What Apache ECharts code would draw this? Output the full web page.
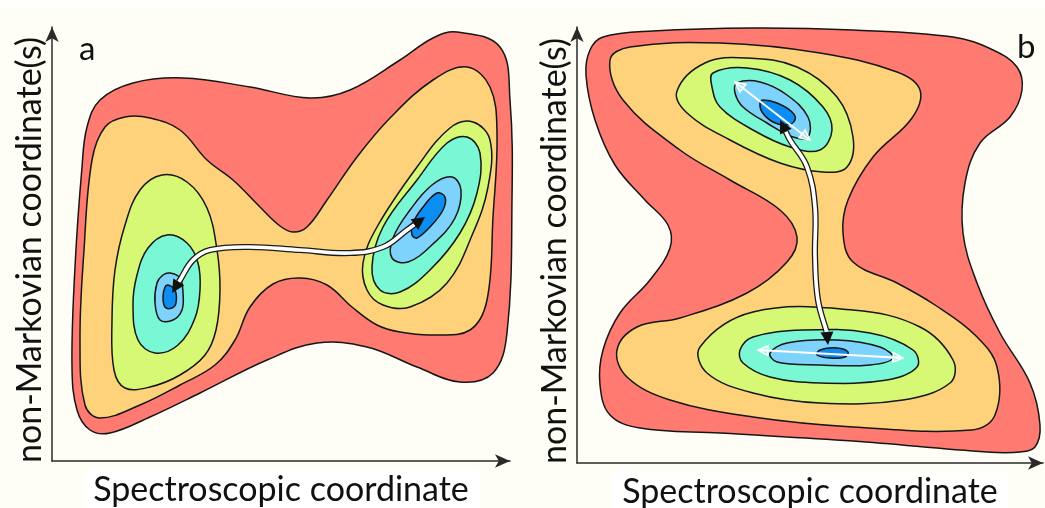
<!DOCTYPE html>
<html><head><meta charset="utf-8">
<script src="https://cdn.jsdelivr.net/npm/echarts@6/dist/echarts.min.js"></script>
<style>html,body{margin:0;padding:0;background:#fefef6}#c{width:1045px;height:508px}</style>
</head><body><div id="c"></div><script>
// ---- text ----
const xLabel = 'Spectroscopic coordinate';
const yLabel = 'non-Markovian coordinate(s)';
const panelLabels = ['a', 'b'];
// ---- level colours (outer -> inner) ----
const levelColors = ['#ff7b72', '#fed27a', '#d6f874', '#7af7d5', '#7dd3fb', '#0b8df2'];

// ---- panel a contours (x: spectroscopic, y: non-Markovian) ----
const aRed = [[405,429],[448,414],[458,361],[460,261],[455,128],[441,88],[408,79],[365,94],[315,114],[265,118],[215,101],[148,68],[98,44],[58,28],[38,31],[25,51],[20,94],[23,194],[30,294],[35,334],[48,361],[81,378],[131,383],[198,374],[258,363],[298,371],[348,401],[381,423]];
const aOrange = [[415,394],[438,374],[445,328],[441,244],[435,161],[418,131],[381,126],[348,129],[325,136],[300,154],[275,176],[248,183],[221,177],[198,154],[183,121],[163,96],[128,76],[88,56],[48,43],[33,56],[28,121],[32,211],[40,301],[53,334],[73,344],[98,343],[128,331],[155,301],[181,281],[208,254],[228,235],[241,229],[255,234],[275,261],[305,304],[338,343],[381,381]];
const aYellowL = [[110,286],[135,279],[155,253],[165,211],[168,171],[164,131],[153,106],[128,86],[98,74],[73,73],[62,91],[60,141],[63,191],[73,236],[88,271]];
const aAquaL = [[115,226],[135,218],[146,198],[148,171],[143,143],[126,116],[103,108],[86,121],[81,156],[85,186],[96,213]];
const aLBlueL = [[118,188],[128,183],[131,168],[130,151],[121,141],[108,141],[103,158],[105,178],[111,186]];
const aBlueL = [[116,176],[123,171],[124,158],[120,153],[113,154],[111,164],[113,174]];
const aYellowR = [[421,339],[438,321],[436,274],[421,228],[395,178],[358,154],[331,156],[315,171],[311,198],[325,234],[365,294],[398,333]];
const aAquaR = [[415,324],[428,308],[425,268],[408,228],[378,191],[348,169],[328,171],[320,194],[331,234],[365,281],[395,318]];
const aLBlueR = [[400,284],[409,271],[403,243],[381,217],[356,199],[340,203],[341,223],[358,251],[380,276]];
const aBlueR = [[385,268],[393,264],[391,251],[378,234],[365,223],[360,226],[361,238],[371,254]];
const aPath = [[120,168],[128,181],[141,201],[158,211],[198,214],[248,211],[298,208],[331,214],[355,231],[373,244]];

// ---- panel b contours ----
const bRed = [[26,426],[76,432],[176,435],[276,433],[376,426],[416,413],[440,396],[445,373],[433,346],[403,320],[388,280],[386,230],[400,180],[423,130],[453,80],[463,38],[458,16],[443,11],[410,11],[276,22],[143,30],[63,35],[33,48],[23,78],[26,113],[43,150],[73,183],[93,215],[91,238],[68,263],[38,298],[18,343],[9,388],[13,413]];
const bOrange = [[53,416],[143,420],[243,410],[320,391],[343,373],[335,345],[296,306],[271,263],[266,230],[276,201],[320,180],[358,158],[398,128],[420,96],[418,48],[395,33],[276,36],[176,46],[93,63],[50,86],[40,113],[60,136],[103,145],[170,170],[210,201],[220,226],[203,253],[153,283],[103,313],[46,363],[33,403]];
const bYellowT = [[100,372],[128,400],[170,405],[220,396],[260,366],[276,326],[270,296],[246,291],[203,300],[153,323],[110,350]];
const bAquaT = [[136,390],[170,395],[213,383],[246,356],[255,333],[243,313],[213,316],[176,333],[143,356],[135,376]];
const bLBlueT = [[160,380],[183,381],[210,368],[231,346],[231,326],[216,326],[190,340],[166,356],[158,370]];
const bBlueT = [[186,363],[200,360],[215,351],[218,343],[210,338],[196,341],[185,351],[183,360]];
const bYellowB = [[123,116],[176,151],[276,153],[343,136],[376,103],[373,80],[326,63],[243,60],[176,70],[130,90]];
const bAquaB = [[163,113],[176,126],[226,133],[293,130],[336,113],[340,96],[310,83],[243,80],[193,86],[166,100]];
const bLBlueB = [[193,110],[210,120],[260,123],[303,116],[316,105],[293,98],[243,98],[200,101]];
const bBlueB = [[240,108],[243,113],[260,115],[271,111],[268,106],[253,105]];
const bPath = [[203,343],[213,323],[230,296],[238,256],[238,206],[241,163],[250,130],[251,118]];
const bSpinT = [[158,381],[233,323]];
const bSpinB = [[181,113],[326,105]];

const panelA = [[aRed,0],[aOrange,1],[aYellowL,2],[aAquaL,3],[aLBlueL,4],[aBlueL,5],[aYellowR,2],[aAquaR,3],[aLBlueR,4],[aBlueR,5]];
const panelB = [[bRed,0],[bOrange,1],[bYellowT,2],[bAquaT,3],[bLBlueT,4],[bBlueT,5],[bYellowB,2],[bAquaB,3],[bLBlueB,4],[bBlueB,5]];

const FONT = 'Lato, "Open Sans", sans-serif';

function contourSeries(idx, list) {
  return {
    type: 'custom', xAxisIndex: idx, yAxisIndex: idx, silent: true, animation: false,
    data: list.map((c, i) => [i, 0]),
    renderItem: function (params, api) {
      const item = list[api.value(0)];
      const pts = item[0].map(p => api.coord(p));
      return { type: 'polygon', shape: { points: pts, smooth: 0.38 },
        style: { fill: levelColors[item[1]], stroke: '#161616', lineWidth: 1.5 } };
    }
  };
}

function headGeom(tip, from, hl, hw) {
  const dx = tip[0] - from[0], dy = tip[1] - from[1];
  const L = Math.hypot(dx, dy) || 1; const ux = dx / L, uy = dy / L;
  const bx = tip[0] - ux * hl, by = tip[1] - uy * hl;
  return { base: [bx, by], poly: [tip, [bx - uy * hw, by + ux * hw], [bx + uy * hw, by - ux * hw]] };
}

function arrowSeries(idx, path, kind) {
  return {
    type: 'custom', xAxisIndex: idx, yAxisIndex: idx, silent: true, animation: false,
    data: [[0, 0]],
    renderItem: function (params, api) {
      const pts = path.map(p => api.coord(p));
      const n = pts.length;
      const children = [];
      if (kind === 'black') {
        const h1 = headGeom(pts[0], pts[1], 13, 6.5), h2 = headGeom(pts[n - 1], pts[n - 2], 13, 6.5);
        const line = [h1.base].concat(pts.slice(1, n - 1), [h2.base]);
        children.push({ type: 'polyline', shape: { points: line, smooth: 0.4 }, style: { stroke: '#1b1b1b', lineWidth: 6.2, fill: null, lineCap: 'butt' } });
        children.push({ type: 'polyline', shape: { points: line, smooth: 0.4 }, style: { stroke: '#ffffff', lineWidth: 3.6, fill: null, lineCap: 'butt' } });
        children.push({ type: 'polygon', shape: { points: h1.poly }, style: { fill: '#111' } });
        children.push({ type: 'polygon', shape: { points: h2.poly }, style: { fill: '#111' } });
      } else {
        const h1 = headGeom(pts[0], pts[1], 10, 5), h2 = headGeom(pts[n - 1], pts[n - 2], 10, 5);
        children.push({ type: 'polyline', shape: { points: pts }, style: { stroke: '#ffffff', lineWidth: 2, fill: null } });
        children.push({ type: 'polygon', shape: { points: h1.poly }, style: { fill: 'rgba(255,255,255,0.35)', stroke: '#ffffff', lineWidth: 1.5 } });
        children.push({ type: 'polygon', shape: { points: h2.poly }, style: { fill: 'rgba(255,255,255,0.35)', stroke: '#ffffff', lineWidth: 1.5 } });
      }
      return { type: 'group', children: children };
    }
  };
}

const axisLineStyle = { show: true, symbol: ['none', 'arrow'], symbolSize: [10, 15], lineStyle: { color: '#2a2a2a', width: 1.5 } };
function xAx(idx, max) {
  return { type: 'value', gridIndex: idx, min: 0, max: max, axisLine: axisLineStyle, axisTick: { show: false }, axisLabel: { show: false }, splitLine: { show: false },
    name: xLabel, nameLocation: 'middle', nameGap: 9,
    nameTextStyle: { fontFamily: FONT, fontSize: 34, color: '#111', backgroundColor: '#ffffff', padding: [3, 10, 6, 10] } };
}
function yAx(idx, max) {
  return { type: 'value', gridIndex: idx, min: 0, max: max, axisLine: axisLineStyle, axisTick: { show: false }, axisLabel: { show: false }, splitLine: { show: false },
    name: yLabel, nameLocation: 'middle', nameGap: 5, nameRotate: 90,
    nameTextStyle: { fontFamily: FONT, fontSize: 34, color: '#111', padding: [0, 12, 0, 0] } };
}

const chart = echarts.init(document.getElementById('c'), null, { renderer: 'canvas' });
chart.setOption({
  backgroundColor: '#fefef6',
  animation: false,
  grid: [
    { left: 52, top: 27, width: 458, height: 434, outerBoundsMode: 'none', containLabel: false },
    { left: 577, top: 27, width: 466, height: 436, outerBoundsMode: 'none', containLabel: false }
  ],
  xAxis: [xAx(0, 458), xAx(1, 466)],
  yAxis: [yAx(0, 434), yAx(1, 436)],
  graphic: [
    { type: 'rect', left: 0, top: 0, shape: { width: 1045, height: 7 }, style: { fill: '#ffffff' }, z: -1 },
    { type: 'text', left: 79, top: 33, style: { text: panelLabels[0], font: '33px ' + FONT, fill: '#111' } },
    { type: 'text', left: 1017, top: 31, style: { text: panelLabels[1], font: '33px ' + FONT, fill: '#111' } }
  ],
  series: [
    contourSeries(0, panelA),
    contourSeries(1, panelB),
    arrowSeries(0, aPath, 'black'),
    arrowSeries(1, bSpinT, 'white'),
    arrowSeries(1, bSpinB, 'white'),
    arrowSeries(1, bPath, 'black')
  ]
});
</script></body></html>
